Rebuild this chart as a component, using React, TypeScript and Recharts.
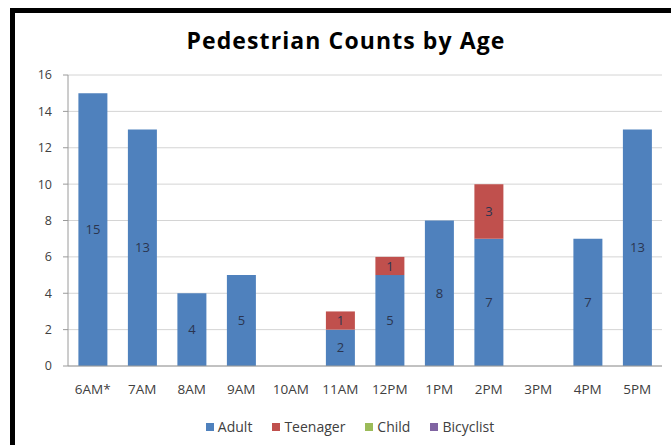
import { BarChart, Bar, XAxis, YAxis, CartesianGrid, LabelList } from "recharts";

const hours = ["6AM*", "7AM", "8AM", "9AM", "10AM", "11AM", "12PM", "1PM", "2PM", "3PM", "4PM", "5PM"];
const adult = [15, 13, 4, 5, 0, 2, 5, 8, 7, 0, 7, 13];
const teenager = [0, 0, 0, 0, 0, 1, 1, 0, 3, 0, 0, 0];
const child = [0, 0, 0, 0, 0, 0, 0, 0, 0, 0, 0, 0];
const bicyclist = [0, 0, 0, 0, 0, 0, 0, 0, 0, 0, 0, 0];
const yTicks = [0, 2, 4, 6, 8, 10, 12, 14, 16];

const series = [
  { key: "adult", name: "Adult", color: "#4F81BD" },
  { key: "teenager", name: "Teenager", color: "#C0504D" },
  { key: "child", name: "Child", color: "#9BBB59" },
  { key: "bicyclist", name: "Bicyclist", color: "#8064A2" },
];

const data = hours.map((hour, i) => ({
  hour,
  adult: adult[i],
  teenager: teenager[i],
  child: child[i],
  bicyclist: bicyclist[i],
}));

const font = "'Open Sans', Lato, sans-serif";
const hideZero = (v: any) => (Number(v) ? v : "");

export default function App() {
  return (
    <div
      style={{
        position: "absolute",
        left: 0,
        top: 0,
        width: 671,
        height: 445,
        background: "#fff",
        fontFamily: font,
        overflow: "hidden",
      }}
    >
      {/* black frame, top and left */}
      <div style={{ position: "absolute", left: 10, top: 8, width: 661, height: 5, background: "#000" }} />
      <div style={{ position: "absolute", left: 10, top: 8, width: 5, height: 437, background: "#000" }} />

      <div
        style={{
          position: "absolute",
          top: 24,
          left: 18,
          width: 656,
          textAlign: "center",
          fontSize: 23,
          fontWeight: 700,
          letterSpacing: 1.1,
          color: "#000",
        }}
      >
        Pedestrian Counts by Age
      </div>

      <div style={{ position: "absolute", left: 0, top: 0 }}>
        <BarChart
          width={671}
          height={445}
          data={data}
          margin={{ top: 75, right: 9, left: 20, bottom: 49 }}
          barCategoryGap="21%"
        >
          <CartesianGrid vertical={false} stroke="#d4d4d4" />
          <XAxis
            dataKey="hour"
            height={30}
            axisLine={{ stroke: "#9a9a9a" }}
            tickLine={false}
            tickSize={6}
            tickMargin={12}
            interval={0}
            tick={{ fill: "#404040", fontSize: 13.5, fontFamily: font }}
          />
          <YAxis
            width={48}
            domain={[0, 16]}
            ticks={yTicks}
            axisLine={{ stroke: "#9a9a9a" }}
            tickLine={{ stroke: "#9a9a9a" }}
            tickSize={5}
            tickMargin={11}
            tick={{ fill: "#404040", fontSize: 12.5, fontFamily: font }}
          />
          {series.map((s) => (
            <Bar
              key={s.key}
              dataKey={s.key}
              name={s.name}
              stackId="a"
              fill={s.color}
              isAnimationActive={false}
            >
              <LabelList
                dataKey={s.key}
                position="center"
                formatter={hideZero}
                fill="#2b3550"
                fontSize={13}
                fontFamily={font}
              />
            </Bar>
          ))}
        </BarChart>
      </div>

      <div
        style={{
          position: "absolute",
          top: 417,
          left: 22,
          width: 656,
          display: "flex",
          justifyContent: "center",
          gap: 20,
          fontSize: 14,
          color: "#404040",
        }}
      >
        {series.map((s) => (
          <div key={s.key} style={{ display: "flex", alignItems: "center", gap: 4 }}>
            <span style={{ width: 8, height: 8, background: s.color, display: "inline-block" }} />
            <span>{s.name}</span>
          </div>
        ))}
      </div>
    </div>
  );
}
